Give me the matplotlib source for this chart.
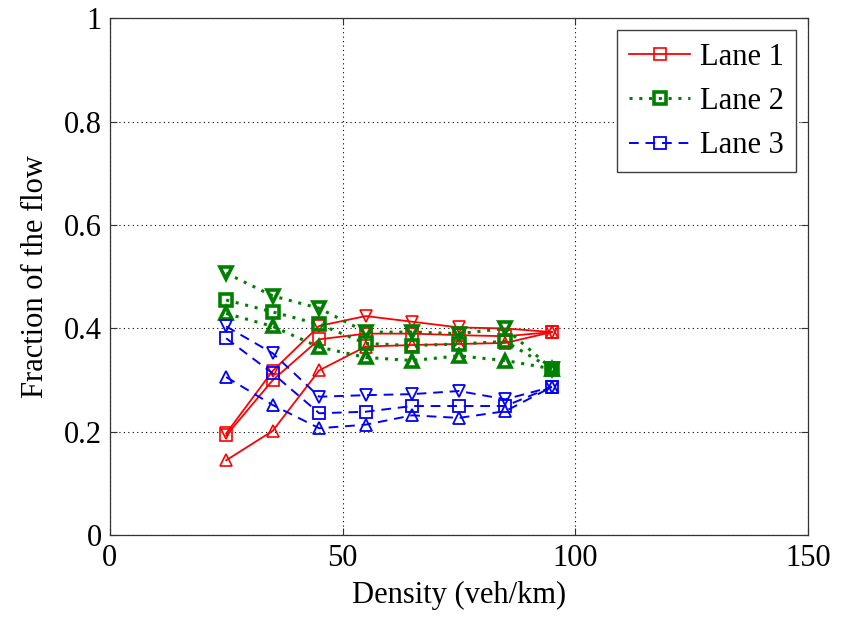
import matplotlib
matplotlib.use("Agg")
import matplotlib.pyplot as plt

density = [25, 35, 45, 55, 65, 75, 85, 95]

# Lane 1 (red, solid)
lane1_sq = [0.193, 0.300, 0.379, 0.390, 0.390, 0.387, 0.385, 0.393]
lane1_dn = [0.197, 0.318, 0.405, 0.424, 0.413, 0.402, 0.400, 0.393]
lane1_up = [0.145, 0.202, 0.319, 0.365, 0.368, 0.370, 0.372, 0.393]

# Lane 2 (green, dotted)
lane2_sq = [0.455, 0.432, 0.408, 0.371, 0.367, 0.370, 0.375, 0.322]
lane2_dn = [0.507, 0.463, 0.439, 0.393, 0.393, 0.390, 0.400, 0.322]
lane2_up = [0.429, 0.404, 0.364, 0.344, 0.338, 0.347, 0.338, 0.322]

# Lane 3 (blue, dashed)
lane3_sq = [0.381, 0.313, 0.236, 0.239, 0.250, 0.250, 0.250, 0.287]
lane3_dn = [0.404, 0.352, 0.268, 0.271, 0.273, 0.279, 0.263, 0.287]
lane3_up = [0.306, 0.252, 0.207, 0.214, 0.232, 0.227, 0.240, 0.287]

labels = ["Lane 1", "Lane 2", "Lane 3"]

plt.rcParams['font.family'] = ['Liberation Serif', 'DejaVu Serif']

fig = plt.figure(figsize=(8.45, 6.29), dpi=100)
ax = fig.add_axes([0.130, 0.149, 0.826, 0.822])

red = '#ff0000'
green = '#008000'
blue = '#0000ff'

styles = [
    (red, '-', 1.3, 1.2, [lane1_sq, lane1_dn, lane1_up]),
    (green, (0, (1, 2.2)), 2.2, 2.6, [lane2_sq, lane2_dn, lane2_up]),
    (blue, (0, (5, 3.5)), 1.4, 1.3, [lane3_sq, lane3_dn, lane3_up]),
]
markers = ['s', 'v', '^']
handles = []
for (c, ls, lw, mew, series), lab in zip(styles, labels):
    for i, (vals, m) in enumerate(zip(series, markers)):
        ln, = ax.plot(density, vals, color=c, linestyle=ls, linewidth=lw,
                      marker=m, markersize=8, markerfacecolor='none',
                      markeredgecolor=c, markeredgewidth=mew,
                      label=lab if i == 0 else None)
        if i == 0:
            handles.append(ln)

ax.set_xlim(0, 150)
ax.set_ylim(0, 1)
ax.set_xticks([0, 50, 100, 150])
ax.set_yticks([0, 0.2, 0.4, 0.6, 0.8, 1])
ax.set_yticklabels(['0', '0.2', '0.4', '0.6', '0.8', '1'])
ax.tick_params(direction='in', labelsize=22, length=5, top=True, right=True,
               color='#333333', pad=6)
ax.grid(True, color='black', linestyle=(0, (1, 3)), linewidth=0.8)
for s in ax.spines.values():
    s.set_linewidth(0.9)
    s.set_color('#333333')
ax.set_xlabel('Density (veh/km)', fontsize=22, labelpad=6)
ax.set_ylabel('Fraction of the flow', fontsize=22, labelpad=10)

leg = ax.legend(handles=handles, loc='upper right', fontsize=22,
                fancybox=False, edgecolor='#404040', framealpha=1,
                handlelength=2.0, handletextpad=0.3, labelspacing=0.5,
                borderaxespad=0.4, borderpad=0.4)
leg.get_frame().set_linewidth(1.0)

fig.savefig('out.png', dpi=100)
